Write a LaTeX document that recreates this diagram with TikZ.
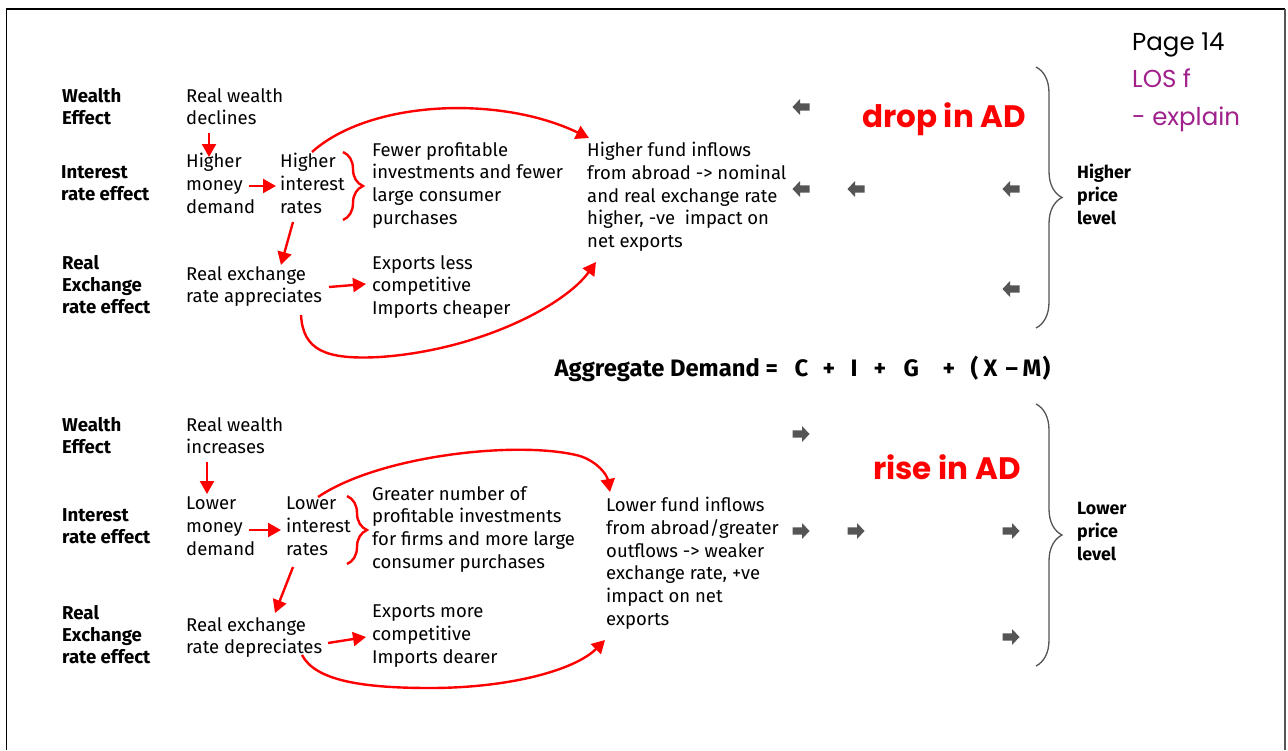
\documentclass[tikz,border=0pt]{standalone}
\usepackage{fontspec}
\setmainfont{Fira Sans}
\newfontfamily\handfont{Poppins}
\usetikzlibrary{arrows.meta,decorations.pathreplacing,calc}
\definecolor{ared}{RGB}{255,0,0}
\definecolor{apurple}{RGB}{160,32,140}
\definecolor{agray}{RGB}{85,85,85}
\newcommand{\bodysize}{\fontsize{18.5}{22.7}\selectfont}
\newcommand{\labsize}{\fontsize{18.6}{22.2}\selectfont\bfseries}
\newcommand{\sidesize}{\fontsize{17.8}{23}\selectfont\bfseries}
\newcommand{\at}[2]{\makebox[0pt][l]{\hspace{#1pt}#2}}

\begin{document}
\begin{tikzpicture}[x=1pt,y=-1pt,
  txt/.style={anchor=north west, inner sep=0pt, align=left, font=\bodysize, execute at begin node={\rule{0pt}{22pt}}},
  lab/.style={txt, font=\labsize},
  side/.style={txt, font=\sidesize},
  redarrow/.style={draw=ared, line width=2.4pt, -{Triangle[length=13pt,width=14pt]}},
  redbrace/.style={draw=ared, line width=2.4pt, decoration={brace, amplitude=20pt}, decorate},
  bigbrace/.style={draw=agray, line width=1.3pt, decoration={brace, amplitude=26pt}, decorate},
  hand/.style={anchor=base west, inner sep=0pt, font=\handfont\fontsize{24.5}{28}\selectfont},
  adnote/.style={anchor=base west, inner sep=0pt, text=ared, font=\handfont\bfseries\fontsize{31}{36}\selectfont},
  larr/.pic={\fill[agray] (-8.5,0) -- (-1,-8) -- (-1,-3.7) -- (8.5,-3.7) -- (8.5,3.7) -- (-1,3.7) -- (-1,8) -- cycle;},
  rarr/.pic={\fill[agray] (8.5,0) -- (1,-8) -- (1,-3.7) -- (-8.5,-3.7) -- (-8.5,3.7) -- (1,3.7) -- (1,8) -- cycle;}
]
\useasboundingbox (0,0) rectangle (1288,750);
\fill[white] (0,0) rectangle (1288,750);

% page frame
\draw[line width=1.5pt] (6.5,750) -- (6.5,9) -- (1285,9);
\draw[agray, line width=2.5pt] (1285,8.5) -- (1285,750);

% notes in the corner
\node[hand] (pg) at (1132,50) {Page 14};
\node[hand, text=apurple] (los) at (1132,87) {LOS f};
\node[hand, text=apurple] (expl) at (1132,125) {- explain};

% ---------- upper chain: higher price level ----------
\node[lab] (we1) at (62,88)  {Wealth\\Effect};
\node[lab] (ir1) at (61,165) {Interest\\rate effect};
\node[lab] (re1) at (62,255) {Real\\Exchange\\rate effect};

\node[txt] (rw1) at (186,88)  {Real wealth\\declines};
\node[txt] (md1) at (186,153) {Higher\\money\\demand};
\node[txt] (it1) at (280,153) {Higher\\interest\\rates};
\node[txt] (fp1) at (372,142) {Fewer profitable\\investments and fewer\\large consumer\\purchases};
\node[txt] (ff1) at (587,142) {Higher fund inflows\\from abroad -> nominal\\and real exchange rate\\higher, -ve\ \ impact on\\net exports};
\node[txt] (ex1) at (186,266) {Real exchange\\rate appreciates};
\node[txt] (xp1) at (372,255) {Exports less\\competitive\\Imports cheaper};

\node[adnote] (drop) at (862,127) {drop in AD};
\node[side] (hp) at (1077,164) {Higher\\price\\level};

\draw[redarrow] ($(rw1.north west)+(23,45)$) -- ($(md1.north west)+(23,4)$);
\draw[redarrow] ($(md1.north west)+(63,33)$) -- ($(it1.north west)+(-4,33)$);
\draw[redarrow] ($(it1.north west)+(13,69)$) -- ($(ex1.north west)+(95,-1)$);
\draw[redarrow] ($(ex1.north west)+(143,21)$) -- ($(xp1.north west)+(-6,29)$);
\draw[redbrace] (343,152) -- (343,220);
\draw[redarrow] ($(it1.north west)+(32,-1)$) .. controls (370,100) and (500,95) .. ($(ff1.north west)+(2,-4)$);
\draw[redarrow] ($(ex1.north west)+(115,49)$) .. controls (303,350) and (325,360) .. (380,357)
   .. controls (480,350) and (565,305) .. ($(ff1.north west)+(9,120)$);

\pic at (801,107) {larr};
\pic at (801,189) {larr};
\pic at (856,189) {larr};
\pic at (1011,189) {larr};
\pic at (1011,289) {larr};
\draw[bigbrace] (1036,67) -- (1036,328);

% ---------- aggregate demand ----------
\node[anchor=base west, inner sep=0pt, font=\bfseries\fontsize{23.8}{28}\selectfont] (ad) at (554,376)
  {\at{0}{Aggregate Demand =}\at{240}{C}\at{268}{+}\at{296}{I}\at{319}{+}\at{349}{G}\at{388}{+}%
   \at{416}{(}\at{429}{X}\at{451}{--}\at{468}{M}\at{488}{)}\hspace{495pt}};

% ---------- lower chain: lower price level ----------
\node[lab] (we2) at (62,417) {Wealth\\Effect};
\node[lab] (ir2) at (62,508) {Interest\\rate effect};
\node[lab] (re2) at (62,605) {Real\\Exchange\\rate effect};

\node[txt] (rw2) at (186,417) {Real wealth\\increases};
\node[txt] (md2) at (186,497) {Lower\\money\\demand};
\node[txt] (it2) at (286,497) {Lower\\interest\\rates};
\node[txt] (gn2) at (372,486) {Greater number of\\profitable investments\\for firms and more large\\consumer purchases};
\node[txt] (lf2) at (606,497) {Lower fund inflows\\from abroad/greater\\outflows -> weaker\\exchange rate, +ve\\impact on net\\exports};
\node[txt] (ex2) at (186,617) {Real exchange\\rate depreciates};
\node[txt] (xp2) at (372,605) {Exports more\\competitive\\Imports dearer};

\node[adnote] (rise) at (873,479) {rise in AD};
\node[side] (lp) at (1077,502) {Lower\\price\\level};

\draw[redarrow] ($(rw2.north west)+(21,45)$) -- ($(md2.north west)+(21,-3)$);
\draw[redarrow] ($(md2.north west)+(63,33)$) -- ($(it2.north west)+(-5,33)$);
\draw[redarrow] ($(it2.north west)+(7,70)$) -- ($(ex2.north west)+(89,-4)$);
\draw[redarrow] ($(ex2.north west)+(142,26)$) -- ($(xp2.north west)+(-6,32)$);
\draw[redbrace] (347,496) -- (347,564);
\draw[redarrow] ($(it2.north west)+(32,0)$) .. controls (380,455) and (520,440) .. (580,456)
   .. controls (598,462) and (607,475) .. ($(lf2.north west)+(4,-5)$);
\draw[redarrow] ($(ex2.north west)+(116,38)$) .. controls (315,680) and (360,688) .. (430,688)
   .. controls (510,688) and (575,670) .. ($(lf2.north west)+(-1,143)$);

\pic at (801,434) {rarr};
\pic at (801,531) {rarr};
\pic at (856,531) {rarr};
\pic at (1011,531) {rarr};
\pic at (1011,637) {rarr};
\draw[bigbrace] (1036,404) -- (1036,666);
\end{tikzpicture}
\end{document}
